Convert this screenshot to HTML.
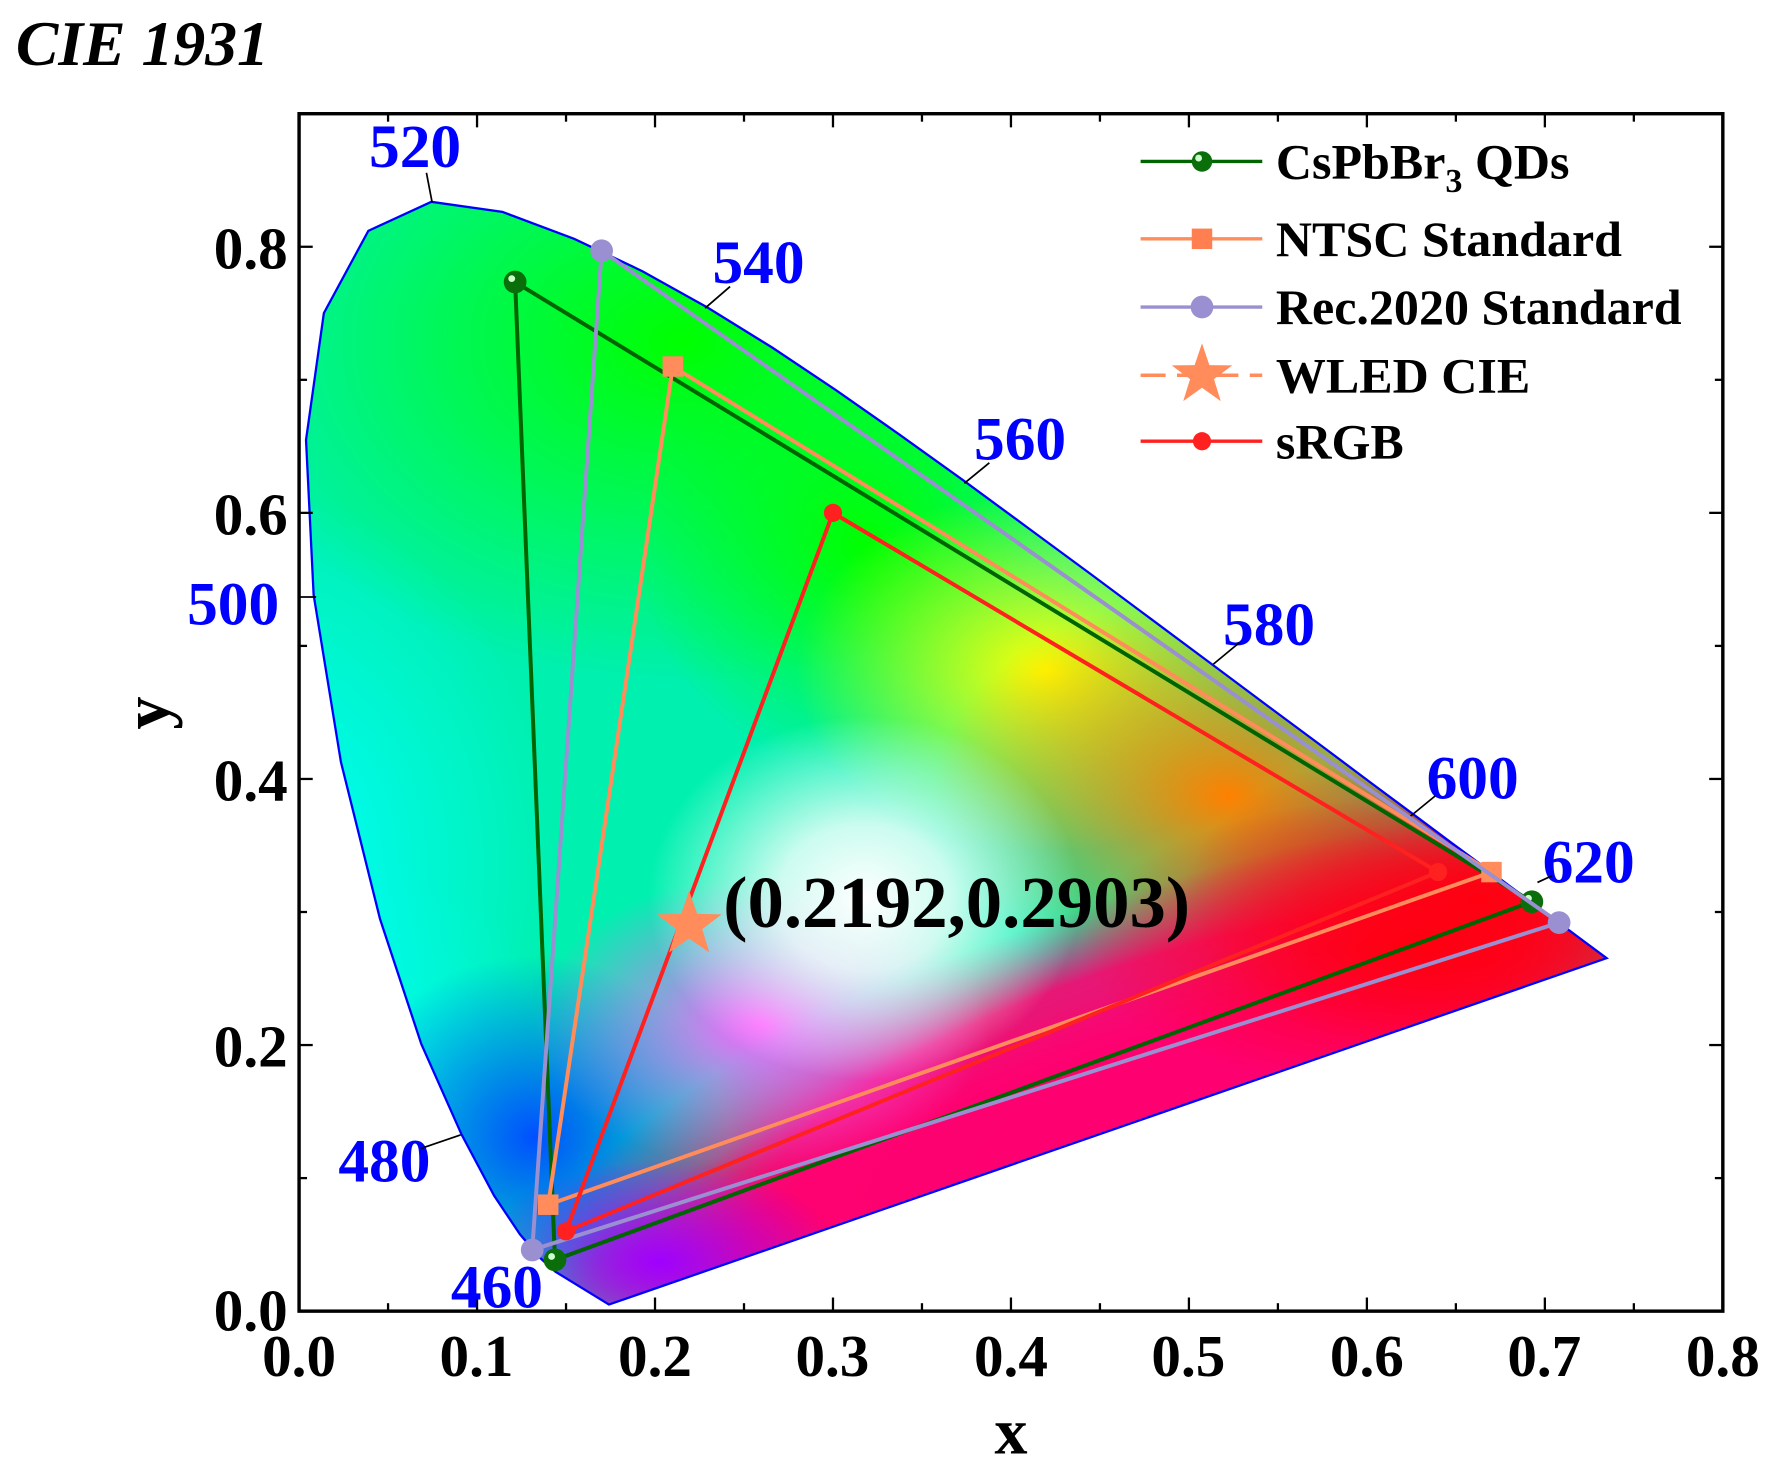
<!DOCTYPE html>
<html><head><meta charset="utf-8"><style>
html,body{margin:0;padding:0;background:#fff;}
svg{display:block}
text{font-family:"Liberation Serif",serif;font-weight:bold}
</style></head><body>
<svg width="1774" height="1460" viewBox="0 0 1560 1283.9" preserveAspectRatio="none" xmlns="http://www.w3.org/2000/svg">
<defs>
<clipPath id="loc"><path id="lp" d=""/></clipPath>
<radialGradient id="gG" cx="0.5" cy="0.5" r="0.5"><stop offset="0" stop-color="#00ff00"/><stop offset="1" stop-color="#00ff00" stop-opacity="0"/></radialGradient>
<radialGradient id="gC" cx="0.5" cy="0.5" r="0.5"><stop offset="0" stop-color="#00ffff"/><stop offset="1" stop-color="#00ffff" stop-opacity="0"/></radialGradient>
<radialGradient id="gB" cx="0.5" cy="0.5" r="0.5"><stop offset="0" stop-color="#0050ff"/><stop offset="1" stop-color="#0050ff" stop-opacity="0"/></radialGradient>
<radialGradient id="gM" cx="0.5" cy="0.5" r="0.5"><stop offset="0" stop-color="#ff60ff"/><stop offset="1" stop-color="#ff60ff" stop-opacity="0"/></radialGradient>
<radialGradient id="gR" cx="0.5" cy="0.5" r="0.5"><stop offset="0" stop-color="#ff0010"/><stop offset="1" stop-color="#ff0010" stop-opacity="0"/></radialGradient>
<radialGradient id="gY" cx="0.5" cy="0.5" r="0.5"><stop offset="0" stop-color="#ffff00"/><stop offset="1" stop-color="#ffff00" stop-opacity="0"/></radialGradient>
<radialGradient id="gO" cx="0.5" cy="0.5" r="0.5"><stop offset="0" stop-color="#ff8000"/><stop offset="1" stop-color="#ff8000" stop-opacity="0"/></radialGradient>
<radialGradient id="gW" cx="0.5" cy="0.5" r="0.5"><stop offset="0" stop-color="#ffffff"/><stop offset="0.4" stop-color="#ffffff" stop-opacity="0.8"/><stop offset="1" stop-color="#ffffff" stop-opacity="0"/></radialGradient>
<radialGradient id="gP" cx="0.5" cy="0.5" r="0.5"><stop offset="0" stop-color="#a000ff"/><stop offset="1" stop-color="#a000ff" stop-opacity="0"/></radialGradient>
<radialGradient id="gK" cx="0.5" cy="0.5" r="0.5"><stop offset="0" stop-color="#ff0070"/><stop offset="0.6" stop-color="#ff0070" stop-opacity="0.9"/><stop offset="1" stop-color="#ff0070" stop-opacity="0"/></radialGradient>
</defs>
<g clip-path="url(#loc)">
<rect x="0" y="0" width="1560" height="1284" fill="#00f0b0"/>
<ellipse cx="230" cy="760" rx="260" ry="330" fill="url(#gC)"/>
<ellipse cx="300" cy="950" rx="200" ry="200" fill="url(#gC)" opacity="0.6"/>
<ellipse cx="470" cy="1000" rx="170" ry="160" fill="url(#gB)"/>
<ellipse cx="600" cy="300" rx="420" ry="300" fill="url(#gG)"/>
<ellipse cx="760" cy="480" rx="200" ry="200" fill="url(#gG)"/>
<ellipse cx="920" cy="590" rx="220" ry="160" fill="url(#gY)"/>
<ellipse cx="1080" cy="700" rx="260" ry="180" fill="url(#gO)"/>
<ellipse cx="1000" cy="940" rx="560" ry="150" fill="url(#gK)" transform="rotate(-19 1000 940)"/>
<ellipse cx="950" cy="1000" rx="520" ry="110" fill="url(#gK)" transform="rotate(-19 950 1000)"/>
<ellipse cx="1300" cy="790" rx="260" ry="140" fill="url(#gR)"/>
<ellipse cx="1250" cy="830" rx="300" ry="130" fill="url(#gR)"/>
<ellipse cx="580" cy="1110" rx="160" ry="90" fill="url(#gP)"/>
<ellipse cx="670" cy="900" rx="200" ry="130" fill="url(#gM)"/>
<ellipse cx="760" cy="790" rx="190" ry="160" fill="url(#gW)"/>
</g>
<path id="locline" d="" fill="none" stroke="#0000ff" stroke-width="2"/>
<rect x="263" y="100" width="1252" height="1053" fill="none" stroke="#000" stroke-width="3"/>
<g id="ticks" stroke="#000" stroke-width="2"></g>
<g font-size="52" fill="#000" text-anchor="middle">
<text x="263" y="1210">0.0</text><text x="419" y="1210">0.1</text><text x="576" y="1210">0.2</text><text x="732" y="1210">0.3</text><text x="889" y="1210">0.4</text><text x="1045" y="1210">0.5</text><text x="1202" y="1210">0.6</text><text x="1358" y="1210">0.7</text><text x="1515" y="1210">0.8</text>
</g>
<g font-size="52" fill="#000" text-anchor="end">
<text x="253" y="1170">0.0</text><text x="253" y="236">0.8</text><text x="253" y="470">0.6</text><text x="253" y="704">0.4</text><text x="253" y="938">0.2</text>
</g>
<text x="889" y="1278" font-size="58" text-anchor="middle">x</text>
<text x="0" y="0" font-size="58" text-anchor="middle" transform="translate(148,627) rotate(-90)">y</text>
<text x="14" y="57" font-size="56" font-style="italic">CIE 1931</text>
<g font-size="54" fill="#0000ff" text-anchor="middle">
<text x="365" y="147">520</text><text x="667" y="249">540</text><text x="897" y="404">560</text><text x="1116" y="567">580</text><text x="1295" y="702">600</text><text x="1397" y="776">620</text><text x="205" y="549">500</text><text x="338" y="1039">480</text><text x="437" y="1150">460</text>
</g>
<g stroke="#000" stroke-width="1.5">
<line x1="380" y1="178" x2="375" y2="152"/><line x1="620" y1="271" x2="642" y2="252"/><line x1="848" y1="425" x2="870" y2="407"/><line x1="1067" y1="584" x2="1090" y2="565"/><line x1="1240" y1="718" x2="1262" y2="700"/><line x1="1352" y1="776" x2="1365" y2="770"/><line x1="263" y1="525" x2="278" y2="525"/><line x1="370" y1="1010" x2="405" y2="998"/>
</g>
<g id="series"></g>
<text x="636" y="815" font-size="64" fill="#000">(0.2192,0.2903)</text>
<g stroke-width="3">
<line x1="1003" y1="142" x2="1110" y2="142" stroke="#006400"/><circle cx="1057" cy="142" r="9" fill="#0a6e0a"/><circle cx="1054" cy="139" r="3" fill="#cfc"/>
<line x1="1003" y1="210" x2="1110" y2="210" stroke="#ff8c5a"/><rect x="1048" y="201" width="18" height="18" fill="#ff7f50"/>
<line x1="1003" y1="270" x2="1110" y2="270" stroke="#9a8fd0"/><circle cx="1057" cy="270" r="10" fill="#9a8fd0"/>
<line x1="1003" y1="330" x2="1110" y2="330" stroke="#ff8c5a" stroke-dasharray="22,10"/>
<line x1="1003" y1="388" x2="1110" y2="388" stroke="#ff2020"/><circle cx="1057" cy="388" r="8" fill="#ff2020"/>
</g>
<polygon id="lstar" fill="#ff8c5a"/>
<g font-size="44" fill="#000">
<text x="1122" y="157">CsPbBr<tspan font-size="30" dy="12">3</tspan><tspan dy="-12"> QDs</tspan></text>
<text x="1122" y="225">NTSC Standard</text>
<text x="1122" y="285">Rec.2020 Standard</text>
<text x="1122" y="345">WLED CIE</text>
<text x="1122" y="403">sRGB</text>
</g>
</svg>
<script>
var X=function(x){return 263+1565*x},Y=function(y){return 1153-1170*y};
var L=[[0.1741,0.005],[0.1440,0.0297],[0.1355,0.0399],[0.1241,0.0578],[0.1096,0.0868],[0.0913,0.1327],[0.0687,0.2007],[0.0454,0.295],[0.0235,0.4127],[0.0082,0.5384],[0.0039,0.6548],[0.0139,0.7502],[0.0389,0.812],[0.0743,0.8338],[0.1142,0.8262],[0.1547,0.8059],[0.1929,0.7816],[0.2296,0.7543],[0.2658,0.7243],[0.3016,0.6923],[0.3373,0.6589],[0.3731,0.6245],[0.4087,0.5896],[0.4441,0.5547],[0.4788,0.5202],[0.5125,0.4866],[0.5448,0.4544],[0.5752,0.4242],[0.6029,0.3965],[0.627,0.3725],[0.6482,0.3514],[0.6658,0.334],[0.6801,0.3197],[0.6915,0.3083],[0.7006,0.2993],[0.7079,0.292],[0.719,0.2809],[0.7347,0.2653]];
var d="M"+L.map(function(p){return X(p[0]).toFixed(1)+","+Y(p[1]).toFixed(1)}).join(" L")+" Z";
document.getElementById("lp").setAttribute("d",d);document.getElementById("locline").setAttribute("d",d);
var NS="http://www.w3.org/2000/svg";
function el(parent,tag,attrs){var e=document.createElementNS(NS,tag);for(var k in attrs)e.setAttribute(k,attrs[k]);parent.appendChild(e);return e;}
var tk=document.getElementById("ticks");
for(var i=0;i<=16;i++){var xx=263+1252*i/16,len=i%2?7:12;el(tk,"line",{x1:xx,y1:1153,x2:xx,y2:1153-len});el(tk,"line",{x1:xx,y1:100,x2:xx,y2:100+len});}
for(var i=0;i<=9;i++){var yy=1153-117*i,len=i%2?7:12;el(tk,"line",{x1:263,y1:yy,x2:263+len,y2:yy});el(tk,"line",{x1:1515,y1:yy,x2:1515-len,y2:yy});}
var S=document.getElementById("series");
function tri(p,c,m){el(S,"polygon",{points:p.map(function(q){return X(q[0])+","+Y(q[1])}).join(" "),fill:"none",stroke:c,"stroke-width":3.5});
p.forEach(function(q){var a=X(q[0]),b=Y(q[1]);
if(m=="sq")el(S,"rect",{x:a-9,y:b-9,width:18,height:18,fill:c});
else if(m=="g"){el(S,"circle",{cx:a,cy:b,r:10,fill:"#0a6e0a"});el(S,"circle",{cx:a-3,cy:b-3,r:3,fill:"#cfc"});}
else el(S,"circle",{cx:a,cy:b,r:(m=="s"?8:10),fill:c});});}
tri([[0.1214,0.7735],[0.6927,0.3077],[0.1438,0.0385]],"#006400","g");
tri([[0.21,0.71],[0.67,0.33],[0.14,0.08]],"#ff8c5a","sq");
tri([[0.170,0.797],[0.708,0.292],[0.131,0.046]],"#9a8fd0","c");
tri([[0.30,0.60],[0.64,0.33],[0.15,0.06]],"#ff2020","s");
function star(cx,cy,R,r){var p=[];for(var i=0;i<10;i++){var a=-Math.PI/2+i*Math.PI/5,rr=i%2?r:R;p.push((cx+rr*Math.cos(a)).toFixed(1)+","+(cy+rr*Math.sin(a)).toFixed(1));}return p.join(" ");}
el(S,"polygon",{points:star(X(0.2192),Y(0.2903),30,12),fill:"#ff8c5a"});
document.getElementById("lstar").setAttribute("points",star(1057,330,28,11));
</script>
</body></html>
